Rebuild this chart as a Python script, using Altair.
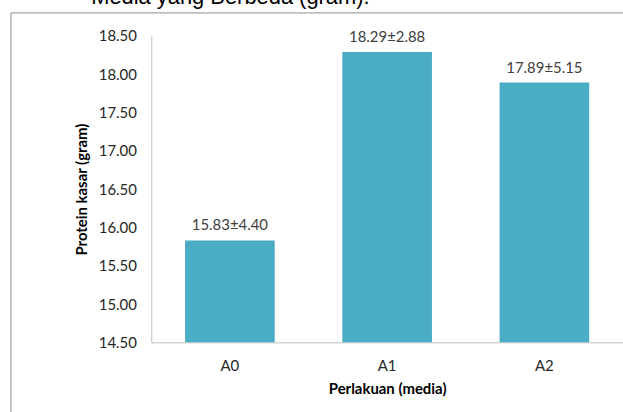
import altair as alt
import pandas as pd

categories = ["A0", "A1", "A2"]
means = [15.83, 18.29, 17.89]
labels = ["15.83±4.40", "18.29±2.88", "17.89±5.15"]
y_ticks = [14.5, 15.0, 15.5, 16.0, 16.5, 17.0, 17.5, 18.0, 18.5]
title_text = "Media yang Berbeda (gram)."

df = pd.DataFrame({"cat": categories, "val": means, "lab": labels})
one = pd.DataFrame({"t": [title_text]})

x_scale = alt.Scale(paddingInner=0.43, paddingOuter=0.215)
y_scale = alt.Scale(domain=[14.5, 18.5], zero=False, nice=False)

x_axis = alt.Axis(title="Perlakuan (media)", labelAngle=0, tickSize=0,
                  labelPadding=16, titlePadding=8, domainColor="#bfbfbf",
                  labelFont="Lato", labelFontSize=15, labelColor="#262626",
                  titleFont="Lato", titleFontSize=15, titleFontWeight="bold",
                  titleColor="#000000")
y_axis = alt.Axis(title="Protein kasar (gram)", values=y_ticks, format=".2f",
                  tickSize=0, labelPadding=15, grid=False, domainColor="#bfbfbf",
                  labelOverlap=False,
                  labelFont="Lato", labelFontSize=15, labelColor="#262626",
                  titleFont="Lato", titleFontSize=15, titleFontWeight="bold",
                  titleColor="#000000", titlePadding=9)

bars = alt.Chart(df).mark_bar(color="#4bacc6").encode(
    x=alt.X("cat:N", scale=x_scale, axis=x_axis),
    y=alt.Y("val:Q", scale=y_scale, axis=y_axis),
    y2=alt.datum(14.5),
)

texts = alt.Chart(df).mark_text(font="Lato", fontSize=15, color="#404040",
                                baseline="alphabetic", dy=-10).encode(
    x=alt.X("cat:N", scale=x_scale, axis=x_axis),
    y=alt.Y("val:Q", scale=y_scale, axis=y_axis),
    text="lab:N",
)

frame = alt.Chart(one).mark_rect(fill=None, stroke="#8c8c8c", strokeWidth=1).encode(
    x=alt.value(-141), x2=alt.value(520), y=alt.value(-23), y2=alt.value(420)
)

title = alt.Chart(one).mark_text(font="Liberation Sans", fontSize=22, color="#000000",
                                 align="center", baseline="alphabetic").encode(
    x=alt.value(79.5), y=alt.value(-32), text="t:N"
)

chart = alt.layer(frame, bars, texts, title).properties(
    width=474, height=308,
    autosize=alt.AutoSizeParams(type="none"),
    padding={"left": 152, "top": 35, "right": 0, "bottom": 69},
    background="white",
).configure_view(stroke=None)

chart.save("out.html", embed_options={"renderer": "svg", "actions": False})
